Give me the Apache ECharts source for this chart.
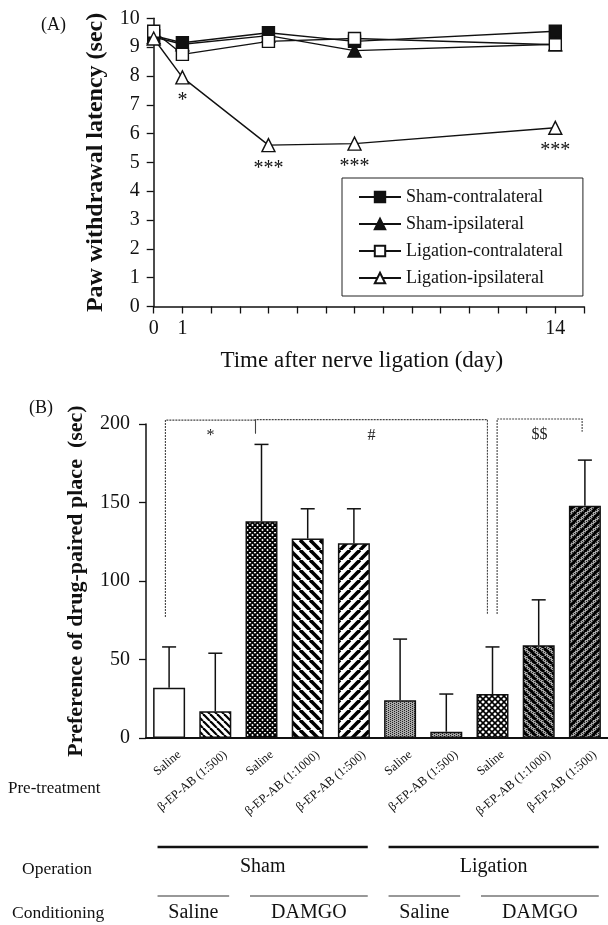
<!DOCTYPE html>
<html>
<head>
<meta charset="utf-8">
<script src="https://cdn.jsdelivr.net/npm/echarts@6/dist/echarts.min.js"></script>
<style>
html, body { margin: 0; padding: 0; background: #fff; }
#main { width: 608px; height: 925px; }
</style>
</head>
<body>
<div id="main"></div>
<script>
// ---- panel A data ----
var days = [0, 1, 4, 7, 14];
var shamContra = [9.4, 9.15, 9.5, 9.2, 9.55];
var shamIpsi = [9.35, 9.1, 9.4, 8.88, 9.1];
var ligContra = [9.55, 8.75, 9.2, 9.3, 9.08];
var ligIpsi = [9.3, 7.95, 5.6, 5.65, 6.2];
var ligIpsiSig = ['', '*', '***', '***', '***'];
var dayTicks = [0, 1, 14];

// ---- panel B data ----
var preLabels = ['Saline', 'β-EP-AB (1:500)', 'Saline', 'β-EP-AB (1:1000)', 'β-EP-AB (1:500)',
                 'Saline', 'β-EP-AB (1:500)', 'Saline', 'β-EP-AB (1:1000)', 'β-EP-AB (1:500)'];
var prefMean = [32, 17, 138, 127, 124, 24, 4, 28, 59, 148];
var prefErr = [58, 54, 187, 146, 146, 63, 28, 58, 88, 177];
var barFill = ['plain', 'thinBack', 'check', 'back', 'fwd', 'gray', 'gray', 'checkOpen', 'grayBack', 'grayFwd'];

// significance brackets (category index, value)
var bracketFrom = [-0.08, 1.87, 7.1];
var bracketTo = [1.87, 6.89, 8.94];
var bracketTop = [202.5, 202.8, 203.2];
var bracketLeftEnd = [77, 194, 79];
var bracketRightEnd = [194, 79, 195];
var bracketMark = ['*', '#', '$$'];

var operationGroups = [['Sham', 0, 4], ['Ligation', 5, 9]];
var conditioningGroups = [['Saline', 0, 1], ['DAMGO', 2, 4], ['Saline', 5, 6], ['DAMGO', 7, 9]];

var FONT = 'Liberation Serif';

function stripes(ctx, s, w, dir) {
  ctx.strokeStyle = '#000';
  ctx.lineWidth = w;
  for (var k = -1; k <= 1; k++) {
    ctx.beginPath();
    if (dir === 'back') { ctx.moveTo(k * s, 0); ctx.lineTo(k * s + s, s); }
    else { ctx.moveTo(k * s, s); ctx.lineTo(k * s + s, 0); }
    ctx.stroke();
  }
}
function grayBg(ctx, s) {
  ctx.fillStyle = '#a8a8a8';
  ctx.fillRect(0, 0, s, s);
  ctx.fillStyle = '#222';
  for (var x = 0; x < s; x += 2) {
    for (var y = (x / 2) % 2; y < s; y += 2) ctx.fillRect(x, y, 1, 1);
  }
}
function makeFill(kind) {
  if (kind === 'plain') return '#fff';
  var s = { thinBack: 7, back: 10, fwd: 10, check: 5, checkOpen: 6, gray: 4, grayBack: 8, grayFwd: 8 }[kind];
  var c = document.createElement('canvas');
  c.width = s; c.height = s;
  var ctx = c.getContext('2d');
  ctx.fillStyle = '#fff';
  ctx.fillRect(0, 0, s, s);
  if (kind === 'thinBack') stripes(ctx, s, 2.2, 'back');
  if (kind === 'back') stripes(ctx, s, 3.6, 'back');
  if (kind === 'fwd') stripes(ctx, s, 3.6, 'fwd');
  if (kind === 'check') { stripes(ctx, s, 1.8, 'back'); stripes(ctx, s, 1.8, 'fwd'); }
  if (kind === 'checkOpen') { stripes(ctx, s, 1.6, 'back'); stripes(ctx, s, 1.6, 'fwd'); }
  if (kind === 'gray') grayBg(ctx, s);
  if (kind === 'grayBack') { grayBg(ctx, s); stripes(ctx, s, 3, 'back'); }
  if (kind === 'grayFwd') { grayBg(ctx, s); stripes(ctx, s, 3, 'fwd'); }
  return { image: c, repeat: 'repeat' };
}

function lineSeries(name, values, symbol, fill) {
  return {
    name: name, type: 'line', xAxisIndex: 0, yAxisIndex: 0,
    data: days.map(function (d, i) { return [d, values[i]]; }),
    symbol: symbol, symbolSize: symbol === 'triangle' ? 13 : 12,
    lineStyle: { color: '#111', width: 1.4 },
    itemStyle: { color: fill, borderColor: '#111', borderWidth: 1.4 },
    animation: false
  };
}

var chart = echarts.init(document.getElementById('main'));

var sigSeries = lineSeries('Ligation-ipsilateral', ligIpsi, 'triangle', '#fff');
sigSeries.label = {
  show: true, position: 'bottom', distance: 6,
  fontFamily: FONT, fontSize: 20, color: '#111',
  formatter: function (p) { return ligIpsiSig[p.dataIndex]; }
};

var axisText = { fontFamily: FONT, color: '#111' };

var option = {
  animation: false,
  textStyle: { fontFamily: FONT },
  grid: [
    { left: 153.7, top: 18.3, width: 430.3, height: 288.2 },
    { left: 146, top: 424, width: 468, height: 314 }
  ],
  legend: {
    data: ['Sham-contralateral', 'Sham-ipsilateral', 'Ligation-contralateral', 'Ligation-ipsilateral'],
    orient: 'vertical', left: 342, top: 178,
    padding: [10, 20, 9, 16],
    itemWidth: 42, itemHeight: 13, itemGap: 9,
    borderColor: '#222', borderWidth: 1, backgroundColor: '#fff',
    selectedMode: false,
    textStyle: { fontFamily: FONT, fontSize: 18, color: '#111' }
  },
  xAxis: [
    {
      gridIndex: 0, type: 'value', min: 0, max: 15, interval: 1,
      name: 'Time after nerve ligation (day)', nameLocation: 'middle', nameGap: 43,
      nameTextStyle: { fontFamily: FONT, fontSize: 23, color: '#111', padding: [0, 14, 0, 0] },
      axisLine: { lineStyle: { color: '#111', width: 1.5 } },
      axisTick: { length: 7, lineStyle: { color: '#111', width: 1.3 } },
      axisLabel: Object.assign({ fontSize: 20, margin: 12, showMinLabel: true, showMaxLabel: true,
        formatter: function (v) { return dayTicks.indexOf(v) >= 0 ? String(v) : ''; } }, axisText),
      splitLine: { show: false }
    },
    {
      gridIndex: 1, type: 'category', data: preLabels, boundaryGap: true,
      axisLine: { lineStyle: { color: '#111', width: 2 } },
      axisTick: { show: false },
      axisLabel: Object.assign({ fontSize: 12.5, rotate: 40, margin: 3, interval: 0,
        verticalAlign: 'top', lineHeight: 32 }, axisText)
    }
  ],
  yAxis: [
    {
      gridIndex: 0, type: 'value', min: 0, max: 10, interval: 1,
      name: 'Paw withdrawal latency (sec)', nameLocation: 'middle', nameGap: 46,
      nameTextStyle: { fontFamily: FONT, fontSize: 24, fontWeight: 'bold', color: '#111' },
      axisLine: { show: true, lineStyle: { color: '#111', width: 1.5 } },
      axisTick: { show: true, length: 7, lineStyle: { color: '#111', width: 1.3 } },
      axisLabel: Object.assign({ fontSize: 20, margin: 14 }, axisText),
      splitLine: { show: false }
    },
    {
      gridIndex: 1, type: 'value', min: 0, max: 200, interval: 50,
      name: 'Preference of drug-paired place  (sec)', nameLocation: 'middle', nameGap: 59,
      nameTextStyle: { fontFamily: FONT, fontSize: 22, fontWeight: 'bold', color: '#111' },
      axisLine: { show: true, lineStyle: { color: '#111', width: 1.5 } },
      axisTick: { show: true, length: 7, lineStyle: { color: '#111', width: 1.3 } },
      axisLabel: Object.assign({ fontSize: 20, margin: 16 }, axisText),
      splitLine: { show: false }
    }
  ],
  series: [
    lineSeries('Sham-contralateral', shamContra, 'rect', '#111'),
    lineSeries('Sham-ipsilateral', shamIpsi, 'triangle', '#111'),
    lineSeries('Ligation-contralateral', ligContra, 'rect', '#fff'),
    sigSeries,
    {
      type: 'bar', xAxisIndex: 1, yAxisIndex: 1, barWidth: 32,
      data: prefMean.map(function (v, i) {
        return { value: v, itemStyle: { color: makeFill(barFill[i]) } };
      }),
      itemStyle: { borderColor: '#111', borderWidth: 1.5 }
    },
    {
      type: 'custom', xAxisIndex: 1, yAxisIndex: 1, z: 3,
      data: prefMean.map(function (v, i) { return [i, v, prefErr[i]]; }),
      renderItem: function (params, api) {
        var base = api.coord([api.value(0), api.value(1)]);
        var top = api.coord([api.value(0), api.value(2)]);
        var st = { stroke: '#111', lineWidth: 1.5 };
        return { type: 'group', children: [
          { type: 'line', shape: { x1: base[0], y1: base[1], x2: top[0], y2: top[1] }, style: st },
          { type: 'line', shape: { x1: top[0] - 7, y1: top[1], x2: top[0] + 7, y2: top[1] }, style: st }
        ] };
      }
    },
    {
      type: 'custom', xAxisIndex: 1, yAxisIndex: 1, z: 3, clip: false,
      data: bracketMark.map(function (m, i) { return [i]; }),
      renderItem: function (params, api) {
        var i = params.dataIndex;
        var band = api.size([1, 0])[0];
        function px(x, y) {
          var f = Math.floor(x);
          var p = api.coord([f, y]);
          return [p[0] + (x - f) * band, p[1]];
        }
        var tl = px(bracketFrom[i], bracketTop[i]);
        var tr = px(bracketTo[i], bracketTop[i]);
        var bl = px(bracketFrom[i], bracketLeftEnd[i]);
        var br = px(bracketTo[i], bracketRightEnd[i]);
        var st = { stroke: '#444', lineWidth: 1.1, lineDash: [2, 1] };
        return { type: 'group', children: [
          { type: 'polyline', shape: { points: [bl, tl, tr, br] }, style: Object.assign({ fill: null }, st) },
          { type: 'text', style: { x: (tl[0] + tr[0]) / 2, y: tl[1] + 16, text: bracketMark[i],
              fontFamily: FONT, fontSize: 16, fill: '#222', align: 'center', verticalAlign: 'middle' } }
        ] };
      }
    }
  ]
};

chart.setOption(option);

// ---- group annotations below panel B, placed from the category axis ----
function catX(i) { return chart.convertToPixel({ xAxisIndex: 1 }, i); }
var band = catX(1) - catX(0);
var graphics = [
  { type: 'text', style: { x: 41, y: 25, text: '(A)', fontFamily: FONT, fontSize: 18, fill: '#111', verticalAlign: 'middle' } },
  { type: 'text', style: { x: 29, y: 408, text: '(B)', fontFamily: FONT, fontSize: 18, fill: '#111', verticalAlign: 'middle' } },
  { type: 'text', style: { x: 8, y: 789, text: 'Pre-treatment', fontFamily: FONT, fontSize: 17, fill: '#111', verticalAlign: 'middle' } },
  { type: 'text', style: { x: 57, y: 869, text: 'Operation', fontFamily: FONT, fontSize: 17.5, fill: '#111', align: 'center', verticalAlign: 'middle' } },
  { type: 'text', style: { x: 12, y: 913, text: 'Conditioning', fontFamily: FONT, fontSize: 17.5, fill: '#111', verticalAlign: 'middle' } }
];
operationGroups.forEach(function (g) {
  var x1 = catX(g[1]) - 0.25 * band, x2 = catX(g[2]) + 0.3 * band;
  graphics.push({ type: 'line', shape: { x1: x1, y1: 847, x2: x2, y2: 847 }, style: { stroke: '#111', lineWidth: 2.5 } });
  graphics.push({ type: 'text', style: { x: (x1 + x2) / 2, y: 867, text: g[0], fontFamily: FONT, fontSize: 20, fill: '#111', align: 'center', verticalAlign: 'middle' } });
});
conditioningGroups.forEach(function (g) {
  var x1 = catX(g[1]) - 0.25 * band, x2 = catX(g[2]) + 0.3 * band;
  graphics.push({ type: 'line', shape: { x1: x1, y1: 896, x2: x2, y2: 896 }, style: { stroke: '#333', lineWidth: 1.2 } });
  graphics.push({ type: 'text', style: { x: (x1 + x2) / 2, y: 913, text: g[0], fontFamily: FONT, fontSize: 20, fill: '#111', align: 'center', verticalAlign: 'middle' } });
});
chart.setOption({ graphic: graphics });
</script>
</body>
</html>
